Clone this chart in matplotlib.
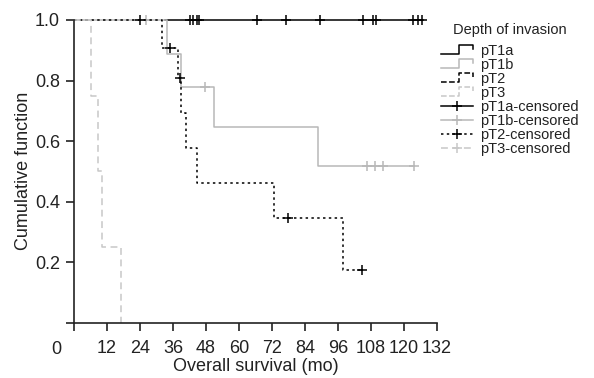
import numpy as np
import matplotlib
matplotlib.use('Agg')
import matplotlib.pyplot as plt
from matplotlib.lines import Line2D
from matplotlib.legend_handler import HandlerBase

plt.rcParams['font.family'] = ['Liberation Sans', 'DejaVu Sans']

# Kaplan-Meier step data (months, cumulative survival)
pT1a_t = [33.0, 127.0]
pT1a_s = [1.0, 1.0]
pT1a_cens = [42.2, 43.4, 44.6, 45.5, 66.7, 77.1, 89.5, 105.2, 108.6, 109.7,
             123.4, 125.2, 126.4]

pT1b_t = [0, 33.9, 38.8, 50.9, 88.6, 123.7]
pT1b_s = [1.0, 0.889, 0.778, 0.648, 0.519, 0.519]
pT1b_cens = [26.2, 47.6, 106.4, 109.4, 112.5, 123.7]

pT2_t = [0, 31.9, 37.7, 39.0, 40.7, 44.8, 72.8, 97.7, 104.6]
pT2_s = [1.0, 0.906, 0.807, 0.692, 0.577, 0.462, 0.346, 0.173, 0.173]
pT2_cens = [24.0, 34.9, 38.5, 77.7, 104.6]

pT3_t = [0, 6.2, 8.8, 10.1, 17.1]
pT3_s = [1.0, 0.75, 0.5, 0.25, 0.0]
pT3_cens = []

x_ticks = [12, 24, 36, 48, 60, 72, 84, 96, 108, 120, 132]
y_ticks = [0.2, 0.4, 0.6, 0.8, 1.0]

DARK = '#000000'
GREY = '#b8b8b8'
GREY3 = '#c8c8c8'
TXT = '#222222'

groups = [
    ('pT1a', pT1a_t, pT1a_s, pT1a_cens, DARK, '-'),
    ('pT1b', pT1b_t, pT1b_s, pT1b_cens, GREY, '-'),
    ('pT2', pT2_t, pT2_s, pT2_cens, DARK, (0, (1.6, 2.2))),
    ('pT3', pT3_t, pT3_s, pT3_cens, GREY3, (0, (4.5, 3))),
]


def surv_at(t, times, surv):
    idx = np.searchsorted(times, t, side='right') - 1
    return np.array(surv)[idx]


class StepHandler(HandlerBase):
    def create_artists(self, legend, orig_handle, xdescent, ydescent,
                       width, height, fontsize, trans):
        xs = np.array([0, 0.55, 0.55, 1.0, 1.0]) * width - xdescent
        ys = np.array([0.05, 0.05, 0.95, 0.95, 0.55]) * height - ydescent
        ln = Line2D(xs, ys, color=orig_handle.get_color(),
                    linestyle=orig_handle.get_linestyle(),
                    linewidth=orig_handle.get_linewidth())
        ln.set_transform(trans)
        return [ln]


fig = plt.figure(figsize=(5.94, 3.78), dpi=100)
ax = fig.add_axes([74 / 594, 1 - 322.7 / 378, (437 - 74) / 594, (322.7 - 20) / 378])

step_handles = []
cens_handles = []
for name, t, s, cens, col, ls in groups:
    ln, = ax.step(t, s, where='post', color=col, linestyle=ls, lw=1.1,
                  clip_on=False, label=name)
    step_handles.append(ln)
    if len(cens):
        cy = [surv_at(c, t, s) for c in cens]
        ax.plot(cens, cy, linestyle='none', marker='+', ms=7, mew=1.1,
                color=col, clip_on=False)
    cens_handles.append(Line2D([], [], color=col, linestyle=ls, lw=1.1,
                               marker='+', ms=7, mew=1.1))

ax.set_xlim(0, 132)
ax.set_ylim(0, 1.0)
ax.set_xticks([0] + x_ticks)
ax.set_xticklabels([''] + [str(v) for v in x_ticks])
ax.set_yticks([0] + y_ticks)
ax.set_yticklabels([''] + ['%.1f' % v for v in y_ticks])
ax.text(-6.3, -0.062, '0', ha='center', va='top', fontsize=13, color=TXT,
        transform=ax.transData)

for sp in ['top', 'right']:
    ax.spines[sp].set_visible(False)
for sp in ['left', 'bottom']:
    ax.spines[sp].set_linewidth(1.2)
    ax.spines[sp].set_color(TXT)
ax.tick_params(direction='out', length=6, width=1.2, labelsize=13,
               colors=TXT, pad=4)
ax.tick_params(axis='x', pad=6.5)
ax.set_xlabel('Overall survival (mo)', fontsize=13, color=TXT, labelpad=0.5)
ax.set_ylabel('Cumulative function', fontsize=13, color=TXT, labelpad=2)

labels = ['pT1a', 'pT1b', 'pT2', 'pT3',
          'pT1a-censored', 'pT1b-censored', 'pT2-censored', 'pT3-censored']
hmap = {h: StepHandler() for h in step_handles}
leg = fig.legend(step_handles + cens_handles, labels, handler_map=hmap,
                 title='Depth of invasion', loc='upper left',
                 bbox_to_anchor=(441 / 594, 1 - 23 / 378), frameon=False,
                 fontsize=10.5, title_fontsize=10.5, numpoints=1,
                 handlelength=2.2, handletextpad=0.5, labelspacing=0.0,
                 borderpad=0, borderaxespad=0)
leg._legend_box.sep = 5
for txt in leg.get_texts():
    txt.set_color(TXT)
leg.get_title().set_color(TXT)

fig.savefig('out.png', dpi=100)
